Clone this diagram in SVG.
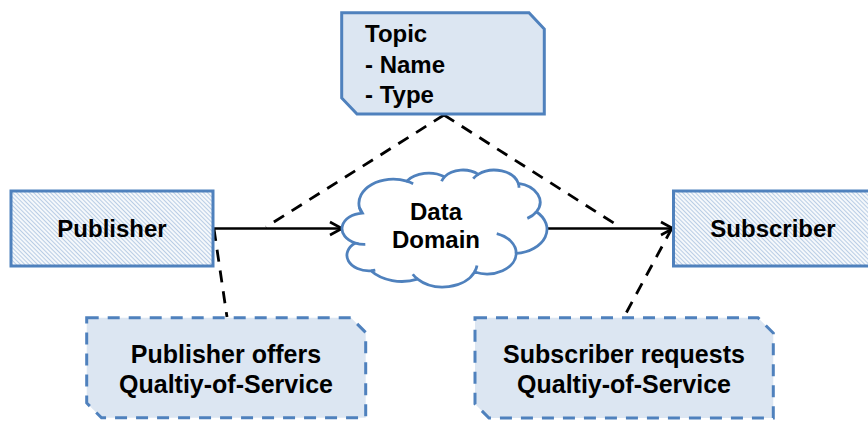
<svg xmlns="http://www.w3.org/2000/svg" width="868" height="421" viewBox="0 0 868 421">
  <defs>
    <pattern id="hatch" width="3" height="3" patternUnits="userSpaceOnUse" patternTransform="rotate(-45)">
      <line x1="1.5" y1="0" x2="1.5" y2="3" stroke="#B9CDE5" stroke-width="1.3"/>
    </pattern>
    <marker id="arrow" markerUnits="userSpaceOnUse" markerWidth="20" markerHeight="20" viewBox="-16 -10 20 20" refX="0" refY="0" orient="auto">
      <path d="M-12,-6.5 L0,0 L-12,6.5" fill="none" stroke="#000" stroke-width="2.6" stroke-linejoin="miter"/>
    </marker>
    <style>
      .txt { font-family: "Liberation Sans", Arial, sans-serif; font-weight: bold; font-size: 24px; fill: #000; }
      .big { font-size: 25px; }
      .mid { text-anchor: middle; }
      .solidbox { fill: #DCE6F2; stroke: #4F81BD; stroke-width: 3; }
      .dashbox { fill: #DCE6F2; stroke: #4F81BD; stroke-width: 3; stroke-dasharray: 12 9; }
      .hatchbox { fill: url(#hatch); stroke: #4F81BD; stroke-width: 3; }
      .cloud { fill: #FFFFFF; stroke: #4F81BD; stroke-width: 2.8; }
      .hint { fill: none; stroke: #4F81BD; stroke-width: 2.8; }
      .flow { stroke: #000; stroke-width: 2.6; fill: none; }
      .assoc { stroke: #000; stroke-width: 2.8; fill: none; stroke-dasharray: 12 9; }
    </style>
  </defs>

  <g id="connectors">
    <line class="assoc" x1="444" y1="115" x2="266" y2="227"/>
    <line class="assoc" x1="444" y1="115" x2="620" y2="227"/>
    <line class="assoc" x1="214" y1="229" x2="227" y2="317"/>
    <line class="assoc" x1="672" y1="228" x2="624" y2="317"/>
    <line class="flow" x1="213" y1="228.5" x2="342" y2="228.5" marker-end="url(#arrow)"/>
    <line class="flow" x1="547" y1="228.5" x2="673" y2="228.5" marker-end="url(#arrow)"/>
  </g>

  <g id="topic">
    <path class="solidbox" d="M341.7,12.7 H529 L544.3,29 V114 H357 L341.7,98 Z"/>
    <text class="txt" x="365" y="42">Topic</text>
    <text class="txt" x="365" y="72.5">- Name</text>
    <text class="txt" x="365" y="103">- Type</text>
  </g>

  <g id="publisher">
    <rect class="hatchbox" x="11" y="191" width="202" height="75"/>
    <text class="txt mid" x="112" y="237">Publisher</text>
  </g>

  <g id="data-domain">
    <path class="cloud" d="M359.48,207.75 A34.27,24.18 0 0 1 406.74,181.14 A27.07,19.12 0 0 1 444.51,176.85 A22.15,15.64 0 0 1 478.21,174.37 A24.65,17.35 0 0 1 518.32,183.34 A27.07,19.14 0 0 1 536.39,211.77 A34.39,24.26 0 0 1 516.21,253.43 A29.36,20.70 0 0 1 474.59,272.01 A34.27,24.25 0 0 1 417.61,279.10 A39.18,27.74 0 0 1 370.96,270.81 A22.13,15.57 0 0 1 355.38,243.05 A22.05,15.64 0 0 1 362.39,213.07 Z"/>
    <path class="hint" d="M365.30,244.29 A22.05,15.64 0 0 1 355.38,243.05"/>
    <path class="hint" d="M375.30,270.23 A22.13,15.57 0 0 1 370.96,270.81"/>
    <path class="hint" d="M417.61,279.10 A34.27,24.25 0 0 1 412.74,274.25"/>
    <path class="hint" d="M476.97,265.47 A34.27,24.25 0 0 1 474.59,272.01"/>
    <path class="hint" d="M496.75,233.71 A29.36,20.70 0 0 1 516.21,253.43"/>
    <path class="hint" d="M536.39,211.77 A27.07,19.14 0 0 1 527.34,218.36"/>
    <path class="hint" d="M518.32,183.34 A24.65,17.35 0 0 1 519.03,187.81"/>
    <path class="hint" d="M473.21,178.59 A24.65,17.35 0 0 1 478.21,174.37"/>
    <path class="hint" d="M441.60,181.20 A22.15,15.64 0 0 1 444.51,176.85"/>
    <path class="hint" d="M406.74,181.14 A34.27,24.18 0 0 1 413.14,183.69"/>
    <path class="hint" d="M361.48,212.54 A34.27,24.18 0 0 1 359.48,207.75"/>
    <text class="txt mid" x="436" y="220">Data</text>
    <text class="txt mid" x="436" y="248">Domain</text>
  </g>

  <g id="subscriber">
    <rect class="hatchbox" x="673.5" y="191" width="210" height="75"/>
    <text class="txt mid" x="773" y="237">Subscriber</text>
  </g>

  <g id="publisher-qos">
    <path class="dashbox" d="M86.7,317.7 H351 L365.7,332.5 V417.7 H101.5 L86.7,403 Z"/>
    <text class="txt big mid" x="226" y="363">Publisher offers</text>
    <text class="txt big mid" x="226" y="393">Qualtiy-of-Service</text>
  </g>

  <g id="subscriber-qos">
    <path class="dashbox" d="M475,317.7 H758 L773.3,333 V418 H489 L475,404 Z"/>
    <text class="txt big mid" x="624" y="363">Subscriber requests</text>
    <text class="txt big mid" x="624" y="393">Qualtiy-of-Service</text>
  </g>
</svg>
